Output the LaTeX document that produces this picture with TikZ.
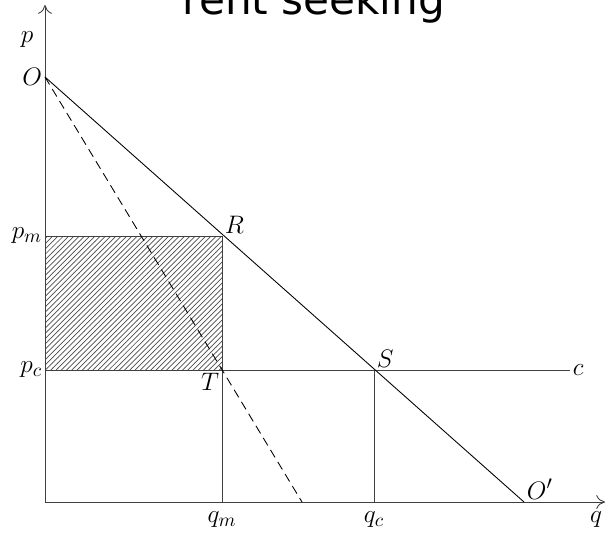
\documentclass[tikz,border=0pt]{standalone}
\usepackage{fontspec}
\usepackage{amsmath,amssymb}
\usetikzlibrary{patterns,arrows.meta}
\newfontfamily\titlefont{DejaVu Sans}

\tikzset{
  lbl/.style={font=\fontsize{15}{18}\selectfont, inner sep=1.5pt},
  axis/.style={draw=black!75, line width=0.5pt},
  curve/.style={draw=black, line width=0.5pt},
  >={To[length=5pt,width=8pt]}
}

\begin{document}
\begin{tikzpicture}
\useasboundingbox (-0.9,-0.8) rectangle (11.26,10.04);

\coordinate (orig) at (0,0);
\coordinate (ytop) at (0,9.94);
\coordinate (xend) at (11.2,0);
\coordinate (O) at (0,8.5);
\coordinate (Oprime) at (9.58,0);
\coordinate (mrend) at (5.14,0);
\coordinate (R) at (3.54,5.32);
\coordinate (S) at (6.58,2.64);
\coordinate (T) at (3.54,2.64);
\coordinate (pm) at (0,5.32);
\coordinate (pc) at (0,2.64);
\coordinate (qm) at (3.54,0);
\coordinate (qc) at (6.58,0);
\coordinate (cend) at (10.5,2.64);

\fill[pattern=north east lines, pattern color=black!70] (pc) rectangle (R);

\draw[axis] (pm) -- (R) -- (qm);
\draw[axis] (pc) -- (cend);
\draw[axis] (S) -- (qc);

\draw[axis,->] (orig) -- (ytop);
\draw[axis,->] (orig) -- (xend);

\draw[curve] (O) -- (Oprime);
\draw[curve,dash pattern=on 5pt off 3pt] (O) -- (mrend);

\node[lbl] (lp) at (-0.36,9.24) {$p$};
\node[lbl,left] (lO) at (O) {$O$};
\node[lbl,left] (lpm) at (pm) {$p_m$};
\node[lbl,left] (lpc) at (pc) {$p_c$};
\node[lbl,above right] (lR) at (R) {$R$};
\node[lbl,above right] (lS) at (S) {$S$};
\node[lbl,below left] (lT) at (T) {$T$};
\node[lbl,right] (lc) at (cend) {$c$};
\node[lbl,above right] (lOp) at (Oprime) {$O'$};
\node[lbl,below=4pt] (lqm) at (qm) {$q_m$};
\node[lbl,below=4pt] (lqc) at (qc) {$q_c$};
\node[lbl,anchor=north east,yshift=-4pt] (lq) at (xend) {$q$};

\node[anchor=base, font=\titlefont\fontsize{24}{28}\selectfont] (title) at (5.38,9.76) {rent seeking};
\end{tikzpicture}
\end{document}
